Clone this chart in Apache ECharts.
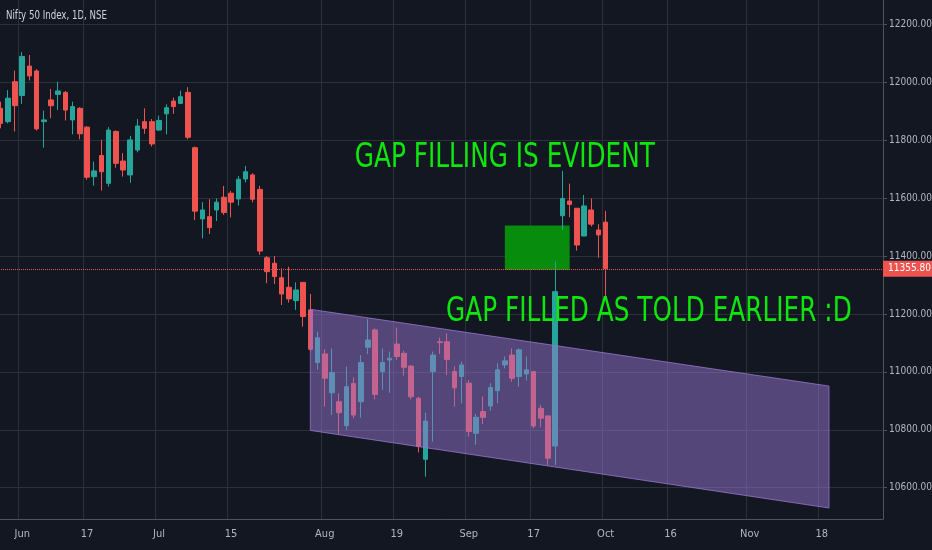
<!DOCTYPE html>
<html>
<head>
<meta charset="utf-8">
<script src="https://cdn.jsdelivr.net/npm/echarts@6/dist/echarts.min.js"></script>
<style>
  html, body { margin: 0; padding: 0; background: #131722; }
  #chart { width: 932px; height: 550px; }
</style>
</head>
<body>
<div id="chart"></div>
<script>
// trading days shown on the chart (future days are empty space on the right)
const tradeDays = {
    '2019-05': [29, 30, 31],
    '2019-06': [3, 4, 6, 7, 10, 11, 12, 13, 14, 17, 18, 19, 20, 21, 24, 25, 26, 27, 28],
    '2019-07': [1, 2, 3, 4, 5, 8, 9, 10, 11, 12, 15, 16, 17, 18, 19, 22, 23, 24, 25, 26, 29, 30, 31],
    '2019-08': [1, 2, 5, 6, 7, 8, 9, 13, 14, 16, 19, 20, 21, 22, 23, 26, 27, 28, 29, 30],
    '2019-09': [3, 4, 5, 6, 9, 11, 12, 13, 16, 17, 18, 19, 20, 23, 24, 25, 26, 27, 30],
    '2019-10': [1, 3, 4, 7, 9, 10, 11, 14, 15, 16, 17, 18, 22, 23, 24, 25, 28, 29, 30, 31],
    '2019-11': [1, 4, 5, 6, 7, 8, 11, 13, 14, 15, 18, 19, 20, 21, 22, 25, 26, 27, 28]
};
const dates = [];
Object.keys(tradeDays).forEach(function (m) {
    tradeDays[m].forEach(function (d) { dates.push(m + '-' + (d < 10 ? '0' + d : d)); });
});

// OHLC, one value per candle from 2019-05-29 to 2019-10-01
const opens = [
    11910, 11864, 12002,
    11954, 12056, 12039, 11864, 11939, 11958, 11965, 11870, 11910, 11845, 11674, 11747, 11651, 11830, 11728, 11680, 11766, 11864, 11864,
    11835, 11891, 11935, 11927, 11965, 11774, 11528, 11536, 11559, 11603, 11617, 11597, 11666, 11680, 11630, 11394, 11375, 11325, 11292, 11246, 11309, 11214, 11032,
    11062, 10928, 10897, 10814, 10960, 10897, 11085, 11145, 11001, 11041, 11096, 11064, 11020, 10909, 10698, 11001, 11104, 11104, 11001, 10984,
    10961, 10788, 10863, 10882, 10935, 11024, 11058, 10984, 10993, 11001, 10874, 10848, 10744, 11539, 11590, 11565, 11469, 11559, 11490,
    11517
];
const closes = [
    11858, 11945, 11919,
    12089, 12022, 11839, 11870, 11919, 11970, 11904, 11916, 11822, 11672, 11694, 11691, 11835, 11720, 11697, 11801, 11849, 11841, 11787,
    11868, 11912, 11916, 11950, 11810, 11555, 11559, 11498, 11586, 11550, 11586, 11665, 11691, 11596, 11417, 11346, 11329, 11269, 11252, 11283, 11191, 11078, 11118,
    10978, 10998, 10859, 10949, 10851, 11032, 11110, 10922, 11032, 11047, 11053, 11016, 10914, 10742, 10830, 11058, 11101, 11043, 10945, 11024,
    10794, 10843, 10843, 10946, 11007, 11038, 10978, 11076, 11007, 10813, 10840, 10702, 11277, 11599, 11578, 11438, 11573, 11510, 11473,
    11355.8
];
const lows = [
    11841, 11858, 11830,
    11925, 12006, 11833, 11774, 11876, 11904, 11868, 11820, 11803, 11663, 11643, 11626, 11640, 11705, 11674, 11653, 11758, 11822, 11778,
    11832, 11820, 11891, 11925, 11803, 11524, 11461, 11476, 11521, 11542, 11533, 11574, 11654, 11585, 11404, 11306, 11303, 11231, 11239, 11214, 11156, 11070, 11007,
    10880, 10851, 10786, 10799, 10840, 10842, 11062, 10905, 10938, 10928, 11041, 10987, 10905, 10722, 10638, 10759, 11062, 10989, 10880, 10891,
    10776, 10748, 10820, 10866, 10892, 11012, 10966, 10949, 10970, 10805, 10809, 10678, 10678, 11490, 11534, 11419, 11469, 11502, 11394,
    11248
];
const highs = [
    11933, 11973, 12040,
    12104, 12094, 12045, 11902, 11977, 12002, 11970, 11933, 11914, 11849, 11726, 11801, 11845, 11834, 11755, 11815, 11873, 11910, 11873,
    11885, 11924, 11947, 11971, 11983, 11778, 11586, 11596, 11599, 11642, 11625, 11676, 11711, 11686, 11642, 11400, 11400, 11358, 11363, 11309, 11309, 11269, 11139,
    11078, 11081, 10926, 11018, 10981, 11058, 11182, 11150, 11081, 11070, 11153, 11073, 11024, 10914, 10859, 11070, 11118, 11133, 11019, 11035,
    10972, 10855, 10915, 10961, 11030, 11053, 11081, 11081, 11053, 11001, 10886, 10848, 11381, 11694, 11650, 11565, 11611, 11599, 11510,
    11556
];
const lastPrice = 11355.80;

// x axis labels
const tickDates = ['2019-06-03', '2019-06-17', '2019-07-01', '2019-07-15', '2019-08-01', '2019-08-19',
                   '2019-09-03', '2019-09-17', '2019-10-01', '2019-10-16', '2019-11-01', '2019-11-18'];
const tickTexts = ['Jun', '17', 'Jul', '15', 'Aug', '19', 'Sep', '17', 'Oct', '16', 'Nov', '18'];

// drawings
const channelDates = ['2019-07-30', '2019-11-19'];
const channelTop = [11216, 10951];
const channelBottom = [10798, 10530];
const gapDates = ['2019-09-11', '2019-09-24'];
const gapPrices = [11352, 11505];
const noteDates = ['2019-09-11', '2019-10-11'];
const notePrices = [11739, 11207];
const noteTexts = ['GAP FILLING IS EVIDENT', 'GAP FILLED AS TOLD EARLIER :D'];

const candles = opens.map(function (o, i) { return [o, closes[i], lows[i], highs[i]]; });

const narrow = '"DejaVu Sans Condensed", "DejaVu Sans", sans-serif';
const chart = echarts.init(document.getElementById('chart'));

chart.setOption({
    backgroundColor: '#131722',
    animation: false,
    graphic: [{
        type: 'text',
        left: 6,
        top: 10,
        scaleX: 0.8,
        style: { text: 'Nifty 50 Index, 1D, NSE', fill: '#d1d4dc', font: '12px ' + narrow }
    }],
    grid: { left: -3, right: 49, top: 0, bottom: 31, containLabel: false, outerBoundsMode: 'none' },
    xAxis: {
        type: 'category',
        data: dates,
        boundaryGap: true,
        axisLine: { lineStyle: { color: '#50535e' } },
        axisTick: { show: false },
        axisLabel: {
            color: '#b2b5be',
            fontSize: 11,
            fontFamily: narrow,
            margin: 10,
            interval: function (i, v) { return tickDates.indexOf(v) >= 0; },
            formatter: function (v) { return tickTexts[tickDates.indexOf(v)]; }
        },
        splitLine: {
            show: true,
            interval: function (i, v) { return tickDates.indexOf(v) >= 0; },
            lineStyle: { color: '#2c303b' }
        }
    },
    yAxis: {
        type: 'value',
        position: 'right',
        min: 10492,
        max: 12284,
        splitNumber: 9,
        scale: true,
        axisLine: { show: true, lineStyle: { color: '#50535e' } },
        axisTick: { show: true, length: 4, lineStyle: { color: '#50535e' } },
        axisLabel: {
            color: '#b2b5be',
            fontSize: 10,
            fontFamily: narrow,
            margin: 6,
            showMinLabel: false,
            showMaxLabel: false,
            formatter: function (v) { return v.toFixed(2); }
        },
        splitLine: { show: true, showMinLine: false, showMaxLine: false, lineStyle: { color: '#2c303b' } }
    },
    series: [
        {
            type: 'candlestick',
            data: candles,
            barWidth: '70%',
            z: 3,
            itemStyle: {
                color: '#26a69a',
                color0: '#ef5350',
                borderColor: '#26a69a',
                borderColor0: '#ef5350',
                borderWidth: 1
            },
            markArea: {
                silent: true,
                itemStyle: { color: '#078c0d' },
                data: [[{ xAxis: gapDates[0], yAxis: gapPrices[1] }, { xAxis: gapDates[1], yAxis: gapPrices[0] }]]
            },
            markLine: {
                silent: true,
                symbol: 'none',
                lineStyle: { color: '#ef5350', type: 'dotted', width: 1 },
                label: {
                    position: 'end',
                    distance: 0,
                    formatter: lastPrice.toFixed(2),
                    color: '#ffffff',
                    fontSize: 10,
                    fontFamily: narrow,
                    backgroundColor: '#ef5350',
                    padding: [3, 5, 3, 5]
                },
                data: [{ yAxis: lastPrice }]
            }
        },
        {
            // parallel channel drawn over the candles
            type: 'custom',
            z: 5,
            silent: true,
            data: [[0]],
            renderItem: function (params, api) {
                const pts = [
                    api.coord([channelDates[0], channelTop[0]]),
                    api.coord([channelDates[1], channelTop[1]]),
                    api.coord([channelDates[1], channelBottom[1]]),
                    api.coord([channelDates[0], channelBottom[0]])
                ];
                return {
                    type: 'polygon',
                    shape: { points: pts },
                    style: { fill: 'rgba(149,117,205,0.5)', stroke: 'rgba(149,117,205,0.8)', lineWidth: 1 }
                };
            }
        },
        {
            // text notes
            type: 'custom',
            z: 6,
            silent: true,
            data: noteDates.map(function (d, i) { return [d, notePrices[i]]; }),
            renderItem: function (params, api) {
                const p = api.coord([api.value(0), api.value(1)]);
                return {
                    type: 'text',
                    x: p[0],
                    y: p[1],
                    scaleX: 0.81,
                    style: {
                        text: noteTexts[params.dataIndex],
                        fill: '#0ee60e',
                        font: '34px ' + narrow,
                        align: 'center',
                        verticalAlign: 'middle'
                    }
                };
            }
        }
    ]
});
</script>
</body>
</html>
